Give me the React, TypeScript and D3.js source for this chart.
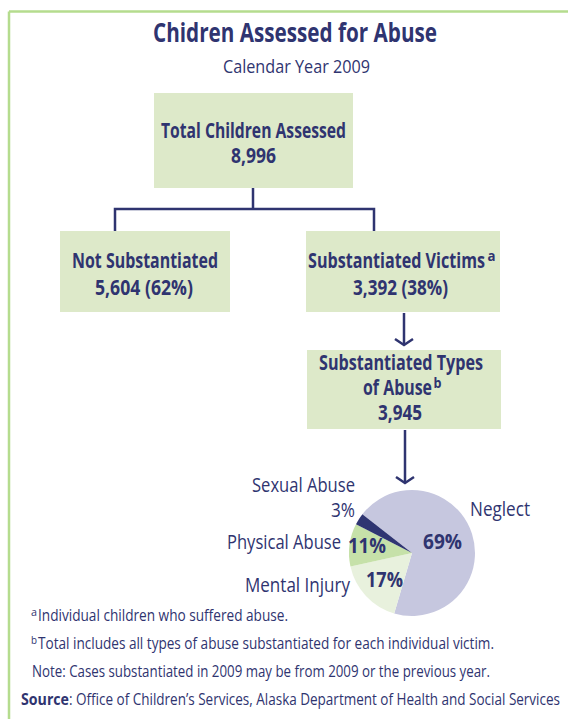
import React from 'react';
import * as d3 from 'd3';

const title = 'Chidren Assessed for Abuse';
const subtitle = 'Calendar Year 2009';

const flowLabels = ['Total Children Assessed', 'Not Substantiated', 'Substantiated Victims', 'Substantiated Types', 'of Abuse'];
const flowCounts = [8996, 5604, 3392, 3945];
const flowPercents = [null, 62, 38, null];

const pieCategories = ['Neglect', 'Mental Injury', 'Physical Abuse', 'Sexual Abuse'];
const pieValues = [69, 17, 11, 3];
const pieColors = ['#c6c7df', '#e8f1dd', '#c6e1a9', '#2f3572'];

const footnoteSups = ['a', 'b', ''];
const footnoteTexts = [
  'Individual children who suffered abuse.',
  'Total includes all types of abuse substantiated for each individual victim.',
  'Note: Cases substantiated in 2009 may be from 2009 or the previous year.',
];
const sourceLabel = 'Source';
const sourceText = ': Office of Children\u2019s Services, Alaska Department of Health and Social Services';

const NAVY = '#2f3470';
const BOX = '#dde9c9';
const FONT = "'Open Sans', 'DejaVu Sans', sans-serif";

type TProps = {
  x: number; y: number; w: number; size: number; bold?: boolean; anchor?: 'start' | 'middle' | 'end'; children: React.ReactNode;
};
function T({ x, y, w, size, bold, anchor = 'start', children }: TProps) {
  const left = anchor === 'start' ? x : anchor === 'middle' ? x - w / 2 : x - w;
  return (
    <text x={left} y={y} textLength={w} lengthAdjust="spacingAndGlyphs" fill={NAVY}
      fontSize={size} fontWeight={bold ? 'bold' : 'normal'}>{children}</text>
  );
}

export default function App() {
  const fmt = d3.format(',');
  const cx = 412, cy = 553, r = 63;
  const startA = (-52 * Math.PI) / 180;
  const pie = d3.pie<number>().sort(null).startAngle(startA).endAngle(startA + 2 * Math.PI);
  const arcs = pie(pieValues);
  const arcGen = d3.arc<d3.PieArcDatum<number>>().innerRadius(0).outerRadius(r);

  const countText = (i: number) =>
    flowPercents[i] == null ? fmt(flowCounts[i]) : `${fmt(flowCounts[i])} (${flowPercents[i]}%)`;

  const arrow = (x: number, y1: number, y2: number) => (
    <g>
      <line x1={x} x2={x} y1={y1} y2={y2} stroke={NAVY} strokeWidth={2.5} />
      <path d={`M${x - 9},${y2 - 6} L${x},${y2} L${x + 9},${y2 - 6}`} fill="none" stroke={NAVY} strokeWidth={2.5} />
    </g>
  );

  return (
    <svg width={568} height={719} style={{ position: 'absolute', left: 0, top: 0 }} fontFamily={FONT}>
      <rect x={0} y={0} width={568} height={719} fill="#fff" />
      <line x1={9} x2={568} y1={11.5} y2={11.5} stroke="#b5dc8e" strokeWidth={2.5} />
      <line x1={9} x2={9} y1={11.5} y2={719} stroke="#b5dc8e" strokeWidth={2.5} />

      <T x={153} y={42} w={284} size={27} bold>{title}</T>
      <T x={223} y={73} w={147} size={18.5}>{subtitle}</T>

      <line x1={253} x2={253} y1={188} y2={209} stroke={NAVY} strokeWidth={2.5} />
      <path d="M115,232 L115,209 L374,209 L374,232" fill="none" stroke={NAVY} strokeWidth={2.5} />
      {arrow(404, 313, 345)}
      {arrow(405, 430, 483)}

      <rect x={154} y={93} width={199} height={95} fill={BOX} />
      <T x={161} y={138} w={185} size={21} bold>{flowLabels[0]}</T>
      <T x={231} y={163} w={45} size={21} bold>{countText(0)}</T>

      <rect x={60} y={231} width={170} height={81} fill={BOX} />
      <T x={72} y={268} w={146} size={21} bold>{flowLabels[1]}</T>
      <T x={95} y={295} w={98} size={21} bold>{countText(1)}</T>

      <rect x={306} y={231} width={194} height={81} fill={BOX} />
      <T x={308} y={268} w={177} size={21} bold>{flowLabels[2]}</T>
      <T x={487.5} y={261} w={8} size={15} bold>a</T>
      <T x={353} y={295} w={95} size={21} bold>{countText(2)}</T>

      <rect x={307} y={350} width={194} height={79} fill={BOX} />
      <T x={319} y={370} w={164} size={21} bold>{flowLabels[3]}</T>
      <T x={363} y={395} w={69} size={21} bold>{flowLabels[4]}</T>
      <T x={433.5} y={388} w={8} size={15} bold>b</T>
      <T x={378} y={420} w={44} size={21} bold>{countText(3)}</T>

      <g transform={`translate(${cx},${cy})`}>
        {arcs.map((a, i) => (
          <path key={pieCategories[i]} d={arcGen(a) || ''} fill={pieColors[i]} />
        ))}
      </g>
      <T x={423} y={549} w={39} size={20.5} bold>{pieValues[0]}%</T>
      <T x={366} y={587} w={37} size={20.5} bold>{pieValues[1]}%</T>
      <T x={348} y={553} w={38} size={20.5} bold>{pieValues[2]}%</T>

      <T x={470} y={516} w={60} size={20}>{pieCategories[0]}</T>
      <T x={245} y={592} w={105} size={20}>{pieCategories[1]}</T>
      <T x={227} y={549} w={114} size={20}>{pieCategories[2]}</T>
      <T x={252} y={492} w={103} size={20}>{pieCategories[3]}</T>
      <T x={331} y={517} w={24} size={20}>{pieValues[3]}%</T>

      {footnoteTexts.map((t, i) => {
        const y = 621 + i * 28;
        const sup = footnoteSups[i];
        return (
          <g key={i}>
            {sup ? <T x={31} y={y - 5} w={6} size={11}>{sup}</T> : null}
            <T x={sup ? 38 : 32} y={y} w={sup ? [250, 456][i] : 458} size={16}>{t}</T>
          </g>
        );
      })}
      <T x={21} y={705} w={48} size={16} bold>{sourceLabel}</T>
      <T x={69} y={705} w={491} size={16}>{sourceText}</T>
    </svg>
  );
}
